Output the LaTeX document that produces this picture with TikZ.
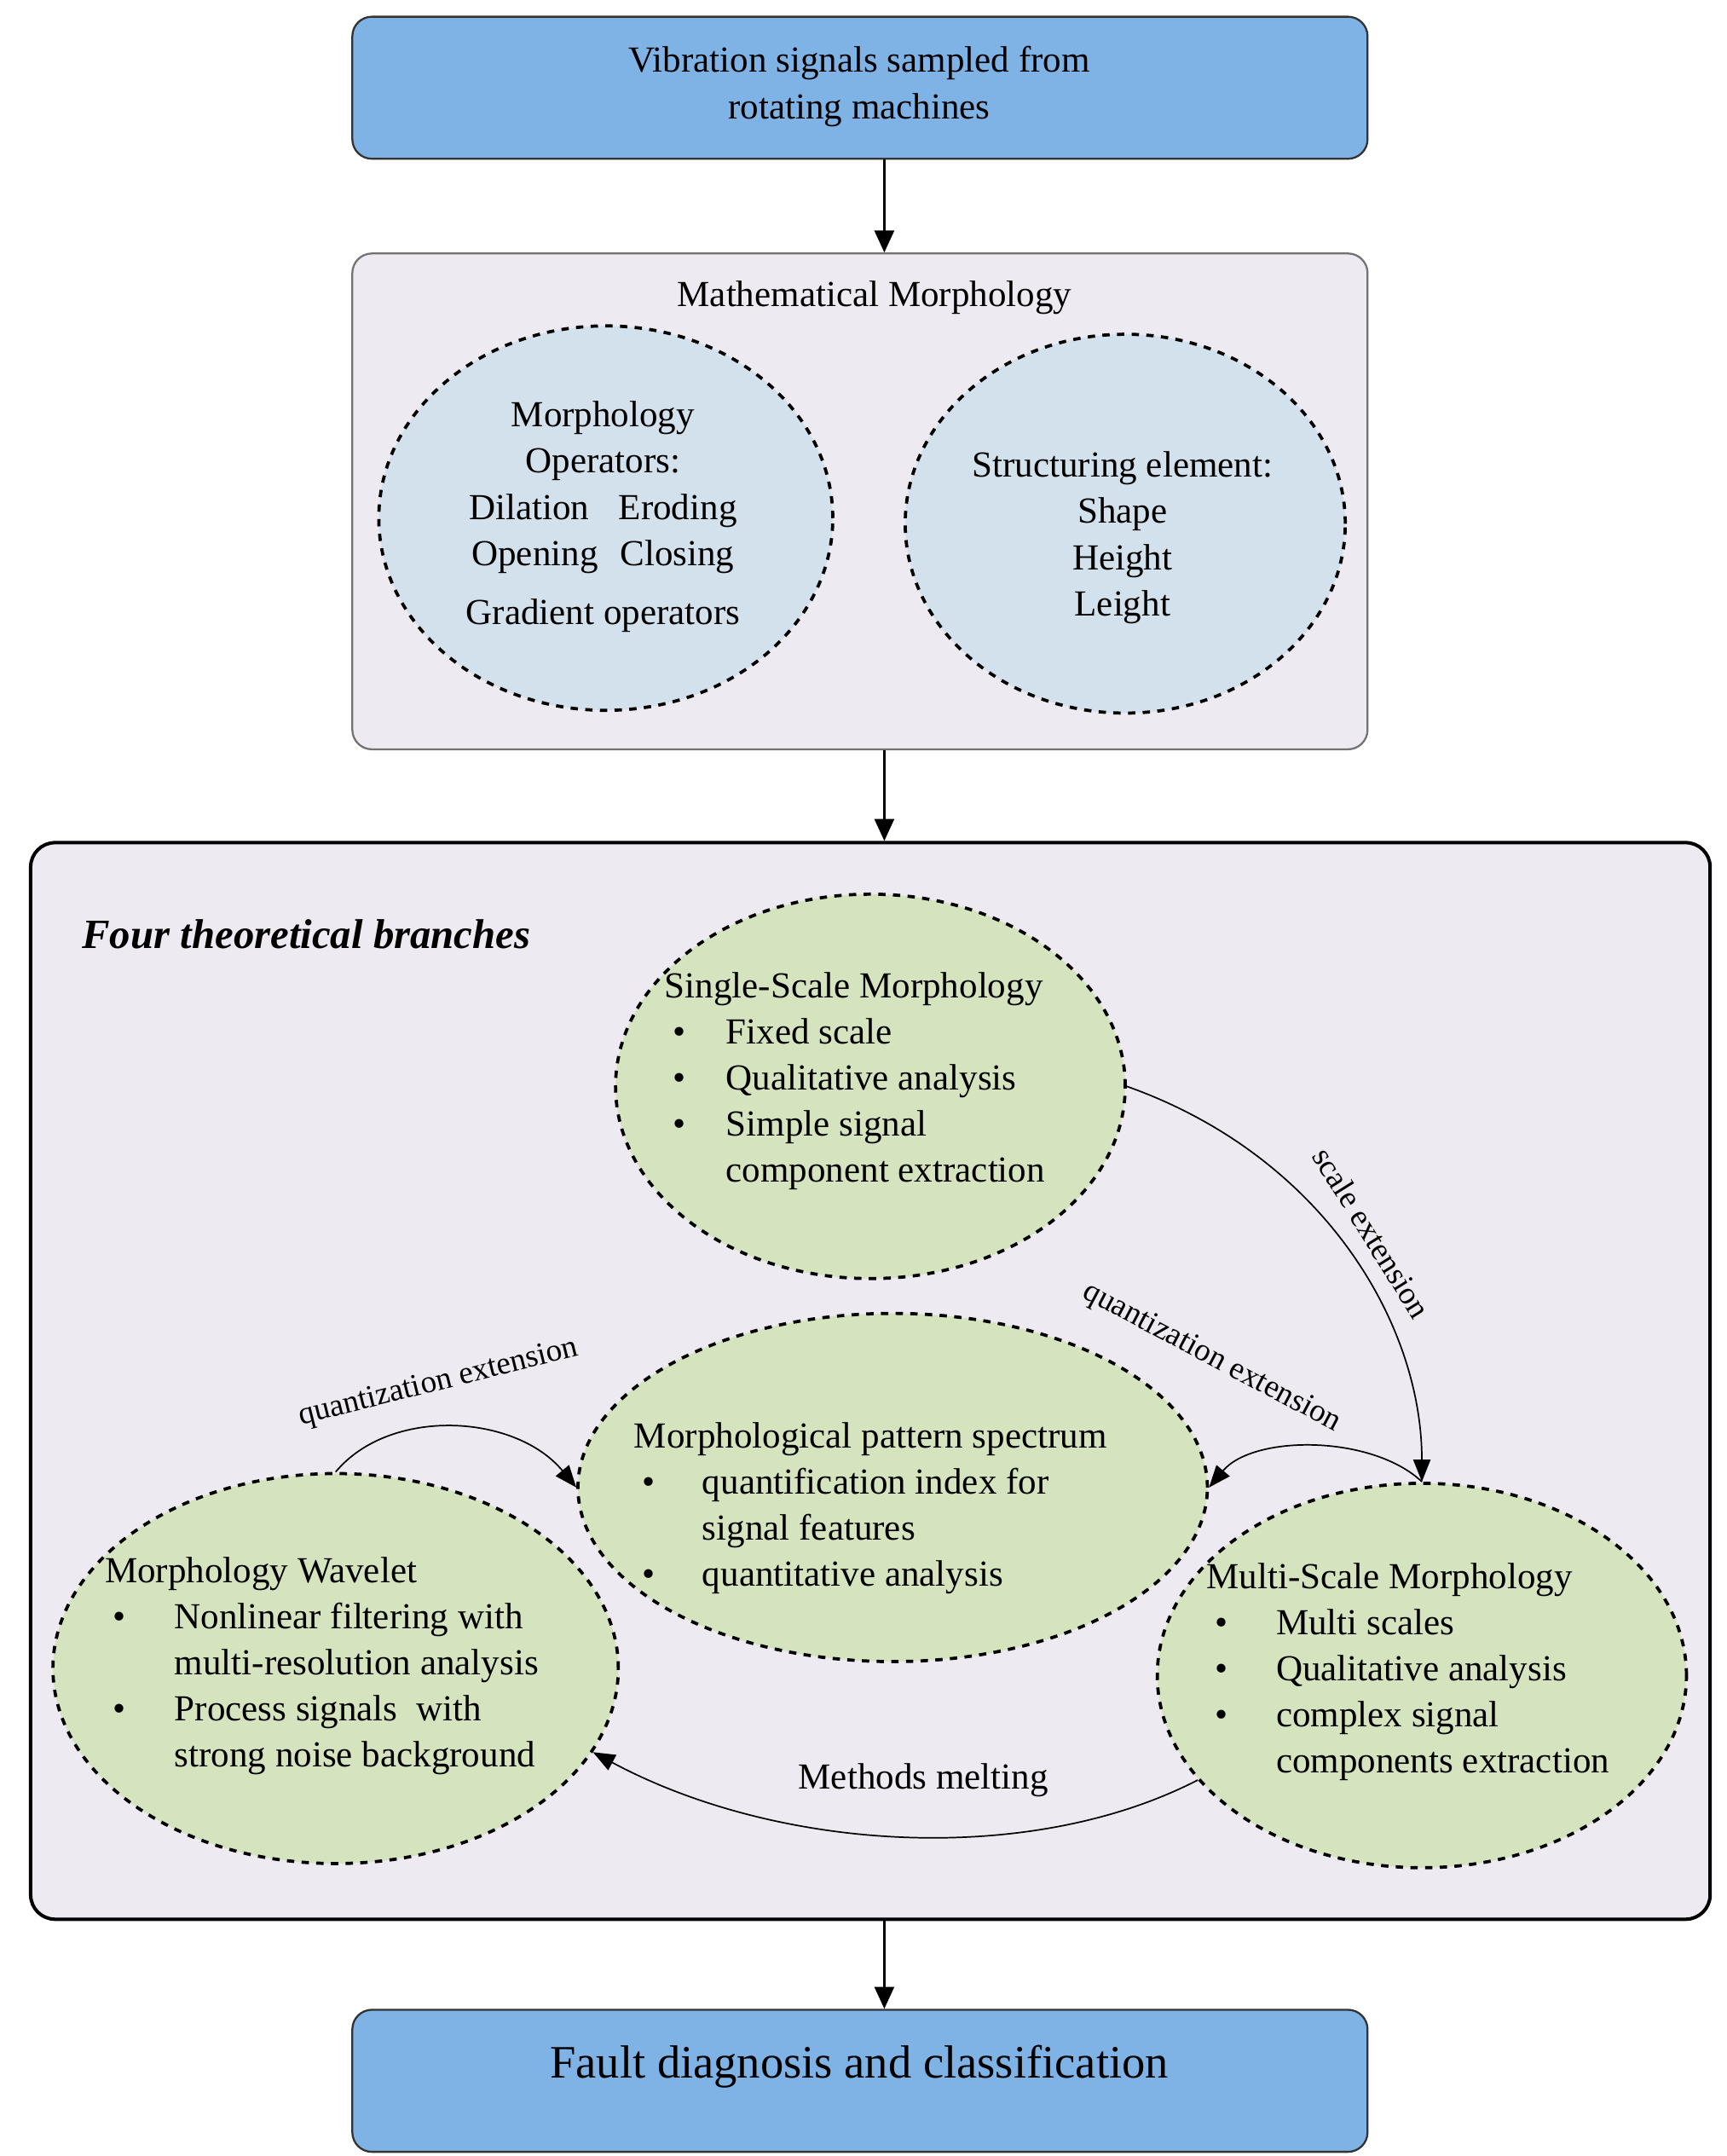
\documentclass[tikz,border=0pt]{standalone}
\usepackage{fontspec}
\setmainfont{Liberation Serif}
\usetikzlibrary{shapes.geometric,arrows.meta}
\definecolor{boxblue}{HTML}{7FB3E6}
\definecolor{lav}{HTML}{EEEAF1}
\definecolor{ellblue}{HTML}{D3E1EC}
\definecolor{ellgreen}{HTML}{D5E4BF}
\begin{document}
\begin{tikzpicture}[x=0.02cm,y=-0.02cm,
  txt/.style={font=\fontsize{15}{19}\selectfont,inner sep=0},
  bluebox/.style={draw=black!80,fill=boxblue,rounded corners=8pt,line width=0.8pt},
  ell/.style={ellipse,draw,dashed,line width=1.3pt,inner sep=0},
  arr/.style={-{Triangle[length=9pt,width=8pt]},line width=1pt},
  carr/.style={-{Triangle[length=9pt,width=7pt]},line width=0.6pt},
  lbl/.style={font=\fontsize{13}{16}\selectfont,inner sep=0}]
\useasboundingbox (0,0) rectangle (1240,1548);
\newcommand{\bl}{\textbullet &}
% top box
\node[bluebox,minimum width=729*0.02cm,minimum height=102*0.02cm] (top) at (617.5,63) {};
\node[txt,align=center] (toptxt) at (617,62) {Vibration signals sampled from\\rotating machines};
% morphology box
\node[draw=black!55,fill=lav,rounded corners=8pt,line width=0.8pt,minimum width=729*0.02cm,minimum height=356*0.02cm] (mm) at (617.5,360) {};
\node[txt] (mmt) at (628,214) {Mathematical Morphology};
\node[ell,fill=ellblue,minimum width=326*0.02cm,minimum height=276*0.02cm] (op) at (435,372) {};
\node[ell,fill=ellblue,minimum width=316*0.02cm,minimum height=272*0.02cm] (se) at (808,376) {};
\node[txt,align=center] (opt) at (433,371) {Morphology\\Operators:\\Dilation\hspace{0.8em}Eroding\\Opening\hspace{0.6em}Closing\\[5pt]Gradient operators};
\node[txt,align=center] (set) at (806,386) {Structuring element:\\Shape\\Height\\Leight};
% big box
\node[draw=black,fill=lav,rounded corners=10pt,line width=1.4pt,minimum width=1206*0.02cm,minimum height=773*0.02cm] (big) at (625,991.5) {};
\node[font=\fontsize{17}{20}\selectfont\bfseries\itshape,inner sep=0] (four) at (220,671) {Four theoretical branches};
% ellipses
\node[ell,fill=ellgreen,minimum width=366*0.02cm,minimum height=276*0.02cm] (ss) at (625,780) {};
\node[ell,fill=ellgreen,minimum width=452*0.02cm,minimum height=250*0.02cm] (ps) at (641,1068) {};
\node[ell,fill=ellgreen,minimum width=406*0.02cm,minimum height=280*0.02cm] (wv) at (241,1198) {};
\node[ell,fill=ellgreen,minimum width=380*0.02cm,minimum height=276*0.02cm] (ms) at (1021,1203) {};
\renewcommand{\arraystretch}{0.99}
\node[txt,anchor=north west] (sst) at (477,693) {\begin{tabular}{@{}p{0.88cm}@{}l}
\multicolumn{2}{@{}l}{Single-Scale Morphology}\\
\hspace{0.12cm}\bl Fixed scale\\
\hspace{0.12cm}\bl Qualitative analysis\\
\hspace{0.12cm}\bl Simple signal\\
 & component extraction\end{tabular}};
\node[txt,anchor=north west] (pst) at (455,1016) {\begin{tabular}{@{}p{0.98cm}@{}l}
\multicolumn{2}{@{}l}{Morphological pattern spectrum}\\
\hspace{0.12cm}\bl quantification index for\\
 & signal features\\
\hspace{0.12cm}\bl quantitative analysis\end{tabular}};
\node[txt,anchor=north west] (wvt) at (75,1113) {\begin{tabular}{@{}p{1.0cm}@{}l}
\multicolumn{2}{@{}l}{Morphology Wavelet}\\
\hspace{0.12cm}\bl Nonlinear filtering with\\
 & multi-resolution analysis\\
\hspace{0.12cm}\bl Process signals\ \ with\\
 & strong noise background\end{tabular}};
\node[txt,anchor=north west] (mst) at (866,1117) {\begin{tabular}{@{}p{1.0cm}@{}l}
\multicolumn{2}{@{}l}{Multi-Scale Morphology}\\
\hspace{0.12cm}\bl Multi scales\\
\hspace{0.12cm}\bl Qualitative analysis\\
\hspace{0.12cm}\bl complex signal\\
 & components extraction\end{tabular}};
% curved connectors
\draw[carr] (ss.east) .. controls (950,830) and (1021,950) .. (ms.north);
\draw[carr] (ms.north) .. controls (985,1030) and (900,1030) .. (ps.east);
\draw[carr] (wv.north) .. controls (280,1010) and (370,1015) .. (ps.west);
\draw[carr] (ms.205) .. controls (740,1340) and (560,1330) .. (wv.-18);
\node[lbl,rotate=-58] (l1) at (985,885) {scale extension};
\node[lbl,rotate=-28] (l2) at (870,975) {quantization extension};
\node[lbl,rotate=14] (l3) at (315,993) {quantization extension};
\node[txt] (l4) at (663,1278) {Methods melting};
% bottom box
\node[bluebox,minimum width=729*0.02cm,minimum height=102*0.02cm] (bot) at (617.5,1494) {};
\node[txt,font=\fontsize{19}{23}\selectfont] (bott) at (617,1484) {Fault diagnosis and classification};
% arrows
\draw[arr] (top.south -| 635,0) -- (mm.north -| 635,0);
\draw[arr] (mm.south -| 635,0) -- (big.north -| 635,0);
\draw[arr] (big.south -| 635,0) -- (bot.north -| 635,0);
\end{tikzpicture}
\end{document}
